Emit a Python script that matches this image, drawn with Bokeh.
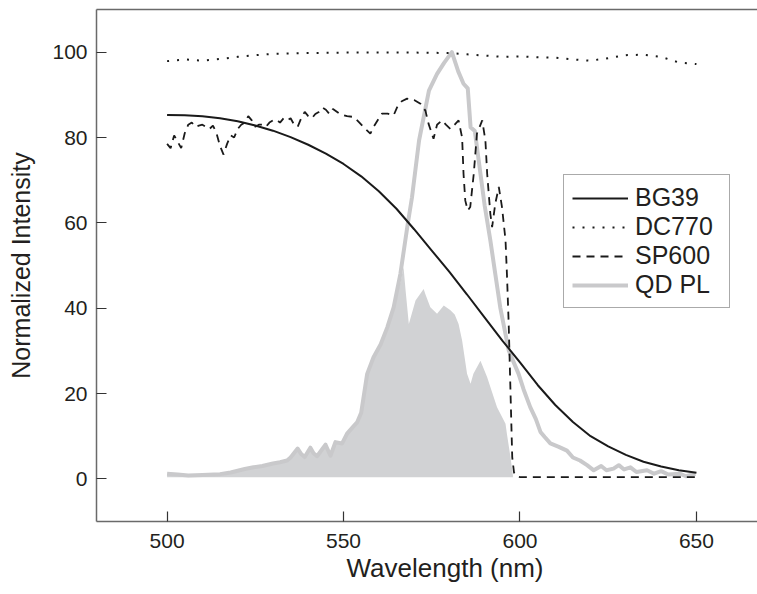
from bokeh.plotting import figure
from bokeh.models import Range1d, LinearAxis, Legend, LegendItem, Title, FixedTicker
from bokeh.embed import file_html
from bokeh.resources import INLINE

# ---------------- data ----------------
bg39_wl = [500, 505, 510, 515, 520, 525, 530, 535, 540, 545, 550, 555, 560, 565, 570,
           575, 580, 585, 590, 595, 600, 605, 610, 615, 620, 625, 630, 635, 640, 645, 650]
bg39_val = [85.3, 85.2, 85.0, 84.5, 83.8, 82.8, 81.6, 80.1, 78.3, 76.2, 73.8, 70.9, 67.4, 63.3, 58.5,
            53.5, 48.5, 43.2, 37.8, 32.4, 27.3, 22.0, 17.3, 13.3, 10.0, 7.6, 5.6, 4.0, 2.9, 2.0, 1.4]

dc770_wl = [500, 505, 510, 515, 520, 525, 530, 540, 550, 560, 570, 580, 585, 590, 595, 600,
            605, 610, 615, 620, 625, 630, 635, 640, 645, 650]
dc770_val = [97.9, 98.3, 98.0, 98.4, 98.9, 99.3, 99.6, 99.8, 99.9, 99.9, 99.9, 99.8, 99.5, 99.2, 98.9, 99.0,
             98.8, 98.7, 98.3, 98.0, 98.6, 99.3, 99.4, 98.9, 97.6, 97.2]

sp600_wl = [500, 501, 502, 503, 504, 505, 506, 507, 508, 509, 510, 511, 512, 513, 514, 515, 516, 517,
            518, 519, 520, 521, 522, 523, 524, 525, 526, 527, 528, 529, 530, 531, 532, 533, 534, 535,
            536, 537, 538, 539, 540, 541, 542, 543, 544, 545, 546, 547, 549, 551, 553, 554.5, 556.2,
            557.6, 558.6, 560, 560.9, 562.5, 564.2, 565.2, 566.5, 568, 570, 571.8, 573.2, 574.1, 575.5,
            576.5, 577.9, 579, 580.3, 581.5, 582.6, 583.6, 584, 584.5, 585.2, 585.9, 586.9, 587.8,
            589.3, 590.2, 590.7, 591.6, 592.1, 593, 594, 594.9, 595.9, 596.3, 596.8, 597.3, 597.8,
            598.3, 598.7, 600, 610, 620, 630, 640, 650]
sp600_val = [78.5, 77.5, 80.5, 79, 77.5, 81, 83, 83.5, 82.5, 82.8, 83, 82.5, 82, 82.8, 81, 78, 76, 78.5,
             80.5, 80, 82, 83, 83.5, 85, 84, 82.5, 83, 83, 82.5, 83.5, 84, 84.2, 83.5, 84.5, 84, 84.5,
             83, 82.5, 84.5, 86, 85, 84.5, 85.5, 86, 87, 86.5, 85.5, 86.7, 85.5, 85, 84.8, 83.5, 82,
             80.9, 82.6, 84.5, 85.6, 85.6, 85.2, 87.1, 88.5, 89.1, 88.8, 87.9, 86.3, 83.2, 79.7,
             83, 84, 83, 82, 83, 84, 80, 71.5, 65.2, 62.9, 63.7, 71.5, 80.9,
             84, 79.3, 71.5, 62.1, 59, 64.5, 68.4, 63.7, 55.9, 48, 36.3, 20.7, 5.1,
             1.5, 0.8, 0.4, 0.4, 0.4, 0.4, 0.4, 0.4]

qd_wl = [500, 503, 506, 510, 515, 518, 520, 522, 524.5, 527, 530, 532, 534, 535, 537, 538, 539,
         540.6, 541.5, 542.5, 544, 544.9, 546.3, 547.7, 549.6, 551, 552.5, 553.9, 555, 556.7, 558.5,
         560.5, 562.4, 564.2, 566.1, 568.2, 569.4, 571.4, 574.2, 576.5, 578.5, 580.7, 582.5, 584,
         585.2, 586, 587.2, 588.3, 590, 591.6, 593, 594.4, 596.8, 599.6, 601, 602.9, 604.5, 605.8,
         607, 608.6, 611, 613.3, 615, 617, 619, 620.9, 623, 624.5, 626.5, 628, 629.5, 631.3, 633,
         636, 638, 640, 642, 645.4, 647, 649.7]
qd_val = [1.2, 1.0, 0.8, 0.9, 1.1, 1.5, 1.9, 2.3, 2.7, 3.0, 3.6, 3.9, 4.3, 5.0, 7.1, 5.8, 5.1,
          7.3, 6.0, 5.3, 7.0, 8.0, 5.4, 8.6, 8.3, 10.6, 12.0, 13.3, 15.5, 24.6, 28.5,
          31.5, 35.5, 40.2, 48.0, 59.8, 66.0, 79.3, 91.0, 94.9, 97.5, 100.0, 95.5, 92.6,
          91.5, 82.4, 81.5, 74.6, 64.0, 55.9, 48.0, 40.2, 30.1, 24.6, 21.0, 16.8, 14.0, 11.0,
          9.8, 8.3, 7.5, 6.6, 5.0, 4.3, 3.2, 2.0, 3.0, 2.0, 2.4, 3.2, 2.2, 2.7, 1.6,
          2.0, 1.2, 1.8, 1.0, 1.2, 0.6, 1.2]

fill_wl = [500, 503, 506, 510, 515, 518, 520, 522, 524.5, 527, 530, 532, 534, 535, 537, 538, 539,
           540.6, 541.5, 542.5, 544, 544.9, 546.3, 547.7, 549.6, 551, 552.5, 553.9, 555, 556.7, 558.5,
           560.5, 562.4, 564.2, 566.1, 567, 567.6, 568.5, 570.4, 572.7, 573.3, 574.6, 576.5, 578.4,
           580.3, 581.5, 582.6, 583.6, 585, 586, 586.8, 588.8, 590.7, 592, 593.5, 595.9, 596.3,
           597.3, 598]
fill_val = [1.2, 1.0, 0.8, 0.9, 1.1, 1.5, 1.9, 2.3, 2.7, 3.0, 3.6, 3.9, 4.3, 5.0, 7.1, 5.8, 5.1,
            7.3, 6.0, 5.3, 7.0, 8.0, 5.4, 8.6, 8.3, 10.6, 12.0, 13.3, 15.5, 24.6, 28.5,
            31.5, 35.5, 40.2, 46.0, 49.6, 44.0, 36.3, 41.8, 44.5, 43.0, 40.2, 38.7, 40.6,
            39.5, 38.5, 36.3, 32.4, 24.6, 22.3, 24.6, 27.7, 23.8, 20.5, 16.8, 12.9, 10.5,
            5.1, 0.8]

x_ticks = [500, 550, 600, 650]
y_ticks = [0, 20, 40, 60, 80, 100]
series_names = ["BG39", "DC770", "SP600", "QD PL"]

FONT = "Liberation Sans"
AXIS_COL = "#6a6a6a"
TEXT_COL = "#231f20"

p = figure(width=757, height=594, output_backend="svg", toolbar_location=None,
           x_range=Range1d(480, 667.3), y_range=Range1d(-10, 110),
           min_border_left=96, min_border_right=0, min_border_top=9, min_border_bottom=73)
p.outline_line_color = None
p.grid.visible = False
p.background_fill_color = "white"
p.border_fill_color = "white"

fill_r = p.varea(x=fill_wl, y1=[0.4] * len(fill_wl), y2=fill_val, fill_color="#d1d2d4")
qd_r = p.line(qd_wl, qd_val, line_color="#c9c9cb", line_width=4, line_join="round")
bg_r = p.line(bg39_wl, bg39_val, line_color="#1a1a1a", line_width=2)
dc_r = p.line(dc770_wl, dc770_val, line_color="#1a1a1a", line_width=2, line_dash="2 8")
sp_r = p.line(sp600_wl, sp600_val, line_color="#1a1a1a", line_width=1.8, line_dash="8 6")

for ax in (p.xaxis[0], p.yaxis[0]):
    ax.axis_line_color = AXIS_COL
    ax.axis_line_width = 1.5
    ax.major_tick_line_color = "#333333"
    ax.major_tick_line_width = 1.2
    ax.major_tick_in = 10
    ax.major_tick_out = 0
    ax.minor_tick_line_color = None
    ax.major_label_text_font = FONT
    ax.major_label_text_font_size = "21px"
    ax.major_label_text_color = TEXT_COL

p.xaxis.ticker = FixedTicker(ticks=x_ticks)
p.yaxis.ticker = FixedTicker(ticks=y_ticks)
p.xaxis.major_label_standoff = 12
p.yaxis.major_label_standoff = 9

p.yaxis.axis_label = "Normalized Intensity"
p.yaxis.axis_label_text_font = FONT
p.yaxis.axis_label_text_font_size = "25px"
p.yaxis.axis_label_text_font_style = "normal"
p.yaxis.axis_label_text_color = TEXT_COL
p.yaxis.axis_label_standoff = 14

top_ax = LinearAxis(ticker=FixedTicker(ticks=[]))
top_ax.axis_line_color = AXIS_COL
top_ax.axis_line_width = 1.5
top_ax.major_tick_line_color = None
top_ax.minor_tick_line_color = None
top_ax.major_tick_out = 0
top_ax.major_tick_in = 0
top_ax.major_label_standoff = 0
top_ax.major_label_text_font_size = "0px"
p.add_layout(top_ax, "above")

xtitle = Title(text="Wavelength (nm)", align="left", offset=250, standoff=5, vertical_align="top",
               text_font=FONT, text_font_size="26px", text_font_style="normal",
               text_color=TEXT_COL)
p.add_layout(xtitle, "below")

legend = Legend(items=[LegendItem(label=series_names[0], renderers=[bg_r]),
                       LegendItem(label=series_names[1], renderers=[dc_r]),
                       LegendItem(label=series_names[2], renderers=[sp_r]),
                       LegendItem(label=series_names[3], renderers=[qd_r])],
                location=(467, 213))
legend.label_text_font = FONT
legend.label_text_font_size = "25px"
legend.label_text_color = TEXT_COL
legend.glyph_width = 56
legend.glyph_height = 28
legend.label_height = 28
legend.label_width = 86
legend.label_standoff = 7
legend.spacing = 0
legend.padding = 8
legend.margin = 0
legend.border_line_color = "#555555"
legend.border_line_width = 1.2
legend.background_fill_alpha = 1.0
p.add_layout(legend, "center")

open("out.html", "w").write(file_html(p, INLINE))
